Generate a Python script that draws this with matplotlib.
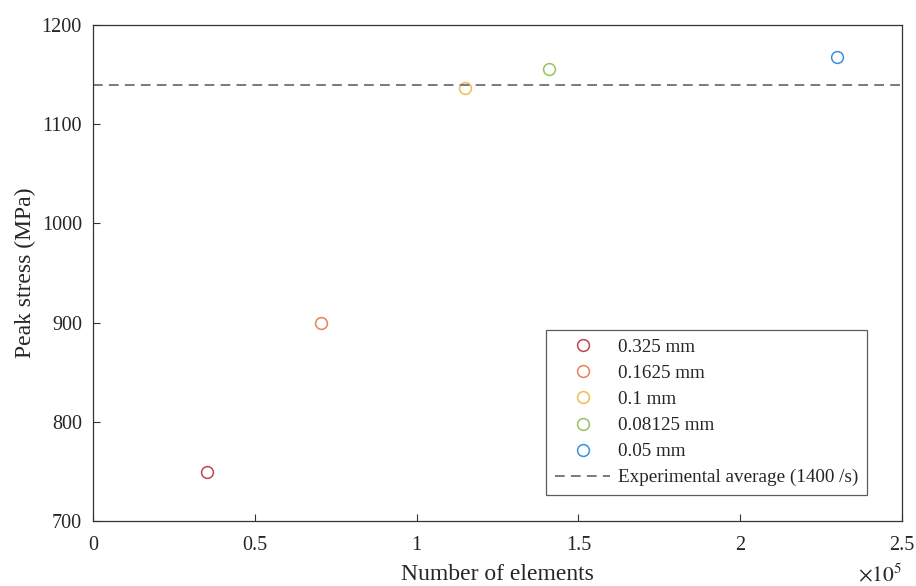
import matplotlib
matplotlib.use("Agg")
import matplotlib.pyplot as plt

labels = ["0.325 mm", "0.1625 mm", "0.1 mm", "0.08125 mm", "0.05 mm"]
elements = [35200, 70500, 115000, 141000, 230000]
peak_stress = [749.5, 899.5, 1136, 1155.5, 1167.5]
colors = ["#C1454F", "#E8825A", "#EFBE4C", "#95C35C", "#3B90D8"]
exp_avg = 1140
exp_label = "Experimental average (1400 /s)"

xticks = [0, 50000, 100000, 150000, 200000, 250000]
xticklabels = ["0", "0.5", "1", "1.5", "2", "2.5"]
yticks = [700, 800, 900, 1000, 1100, 1200]

plt.rcParams['font.family'] = ['Liberation Serif', 'DejaVu Serif']
plt.rcParams['mathtext.fontset'] = 'stix'

fig = plt.figure(figsize=(9.16, 5.86), dpi=100)
ax = fig.add_axes([93/916, 65/586, 809/916, 496/586])

handles = []
for x, y, c, lab in zip(elements, peak_stress, colors, labels):
    h, = ax.plot([x], [y], linestyle='none', marker='o', markersize=8.5,
                 markerfacecolor='none', markeredgecolor=c, markeredgewidth=1.1, label=lab)
    handles.append(h)
ln = ax.axhline(exp_avg, color='#7a7a7a', linestyle=(0, (5, 3.2)), linewidth=1.4, label=exp_label)
handles.append(ln)

ax.set_xlim(0, 250000)
ax.set_ylim(700, 1200)
ax.set_xticks(xticks)
ax.set_xticklabels(xticklabels)
ax.set_yticks(yticks)
ax.tick_params(direction='in', length=5, width=0.8, color='#333333', labelsize=14.5,
               labelcolor='#262626')
ax.tick_params(axis='y', pad=8)
ax.tick_params(axis='x', pad=11)
for s in ax.spines.values():
    s.set_color('#333333')
    s.set_linewidth(0.9)

ax.set_xlabel("Number of elements", fontsize=17, color='#262626', labelpad=6)
ax.set_ylabel("Peak stress (MPa)", fontsize=17, color='#262626', labelpad=4)
fig.text(902/916, 1 - 581/586, r"$\times 10^{5}$", fontsize=15.5, color='#262626',
         ha='right', va='baseline')

leg = ax.legend(handles=handles, loc='lower right', bbox_to_anchor=(867/916, 91/586),
                bbox_transform=fig.transFigure, borderaxespad=0, fontsize=13.8,
                frameon=True, fancybox=False,
                edgecolor='#333333', handlelength=2.9, handletextpad=0.4,
                labelspacing=0.45, borderpad=0.45)
leg.get_frame().set_linewidth(0.9)
for t in leg.get_texts():
    t.set_color('#262626')

fig.savefig("out.png", dpi=100)
